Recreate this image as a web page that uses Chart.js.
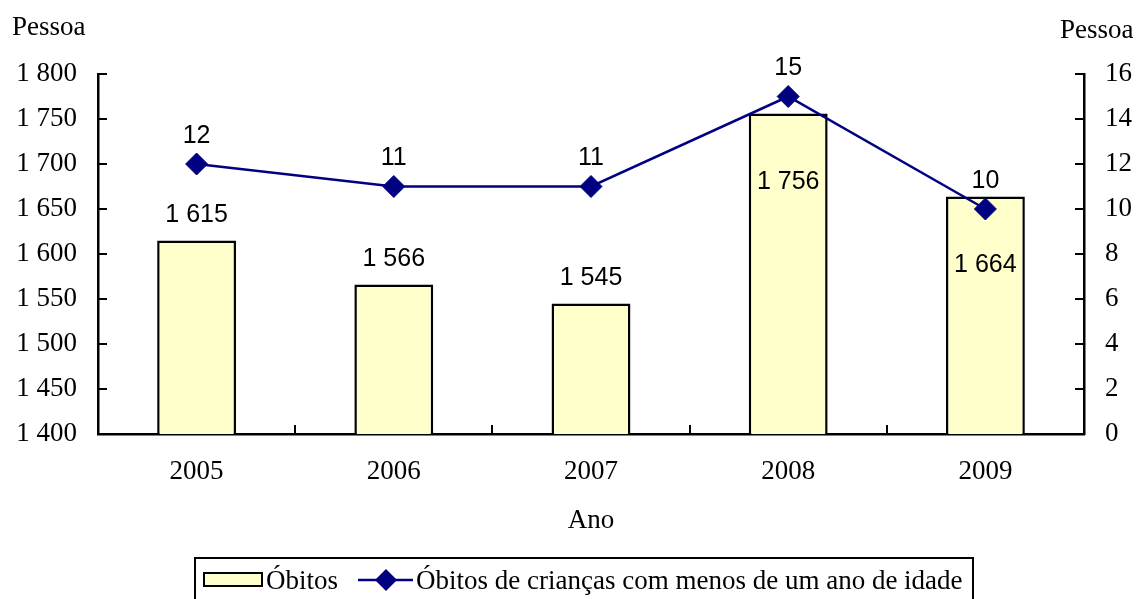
<!DOCTYPE html>
<html>
<head>
<meta charset="utf-8">
<script src="https://cdn.jsdelivr.net/npm/chart.js@4/dist/chart.umd.min.js"></script>
<style>
html,body{margin:0;padding:0;background:#fff;}
canvas{display:block;}
</style>
</head>
<body>
<canvas id="c" width="1138" height="599"></canvas>
<script>
// ---- data ----
const categories = ['2005', '2006', '2007', '2008', '2009'];
const obitos = [1615, 1566, 1545, 1756, 1664];
const obitosInfantis = [12, 11, 11, 15, 10];
const seriesNames = ['Óbitos', 'Óbitos de crianças com menos de um ano de idade'];
const leftAxisRange = [1400, 1800, 50];
const rightAxisRange = [0, 16, 2];
const leftAxisTitle = 'Pessoa';
const rightAxisTitle = 'Pessoa';
const xAxisTitle = 'Ano';

// ---- styles ----
const SERIF = '"Liberation Serif", "Times New Roman", serif';
const SANS = '"Liberation Sans", Arial, sans-serif';
const BAR_FILL = '#FFFFCC';
const NAVY = '#000080';

function fmt(n) {
  return String(n).replace(/\B(?=(\d{3})+(?!\d))/g, ' ');
}

const labelsPlugin = {
  id: 'valueLabels',
  afterDatasetsDraw(chart) {
    const ctx = chart.ctx;
    ctx.save();
    ctx.font = '25px ' + SANS;
    ctx.fillStyle = '#000';
    ctx.textAlign = 'center';
    ctx.textBaseline = 'middle';
    const barMeta = chart.getDatasetMeta(0);
    barMeta.data.forEach((el, i) => {
      const inside = el.y < chart.chartArea.top + 140;
      const y = inside ? el.y + 69 : el.y - 25;
      ctx.fillText(fmt(obitos[i]), el.x, y);
    });
    const lineMeta = chart.getDatasetMeta(1);
    lineMeta.data.forEach((el, i) => {
      ctx.fillText(String(obitosInfantis[i]), el.x, el.y - 28);
    });
    ctx.restore();
  }
};

const axesPlugin = {
  id: 'innerTicks',
  afterDraw(chart) {
    const ctx = chart.ctx;
    const area = chart.chartArea;
    const y = chart.scales.y, y1 = chart.scales.y1, x = chart.scales.x;
    ctx.save();
    ctx.strokeStyle = '#000';
    ctx.lineWidth = 2;
    ctx.beginPath();
    y.ticks.forEach(t => {
      const py = Math.round(y.getPixelForValue(t.value));
      ctx.moveTo(area.left, py); ctx.lineTo(area.left + 9, py);
    });
    y1.ticks.forEach(t => {
      const py = Math.round(y1.getPixelForValue(t.value));
      ctx.moveTo(area.right - 9, py); ctx.lineTo(area.right, py);
    });
    const n = categories.length;
    for (let i = 0; i <= n; i++) {
      let px;
      if (i === 0) px = x.getPixelForValue(0) - (x.getPixelForValue(1) - x.getPixelForValue(0)) / 2;
      else if (i === n) px = x.getPixelForValue(n - 1) + (x.getPixelForValue(n - 1) - x.getPixelForValue(n - 2)) / 2;
      else px = (x.getPixelForValue(i - 1) + x.getPixelForValue(i)) / 2;
      px = Math.round(px);
      ctx.moveTo(px, area.bottom); ctx.lineTo(px, area.bottom - 9);
    }
    ctx.stroke();

    // unit titles
    ctx.fillStyle = '#000';
    ctx.font = '27px ' + SERIF;
    ctx.textBaseline = 'alphabetic';
    ctx.textAlign = 'left';
    ctx.fillText(leftAxisTitle, 12, 35);
    ctx.fillText(rightAxisTitle, 1060, 38);

    // legend
    const lx0 = 195, lx1 = 973, ly0 = 558, ly1 = 620;
    ctx.lineWidth = 2;
    ctx.strokeStyle = '#000';
    ctx.strokeRect(lx0, ly0, lx1 - lx0, ly1 - ly0);
    ctx.fillStyle = BAR_FILL;
    ctx.fillRect(204, 573, 58, 13);
    ctx.strokeRect(204, 573, 58, 13);
    ctx.fillStyle = '#000';
    ctx.font = '27px ' + SERIF;
    ctx.textBaseline = 'alphabetic';
    ctx.fillText(seriesNames[0], 266, 589);
    ctx.strokeStyle = NAVY;
    ctx.lineWidth = 2.5;
    ctx.beginPath();
    ctx.moveTo(358, 580); ctx.lineTo(413, 580);
    ctx.stroke();
    ctx.fillStyle = NAVY;
    ctx.beginPath();
    ctx.moveTo(386, 569); ctx.lineTo(397, 580); ctx.lineTo(386, 591); ctx.lineTo(375, 580);
    ctx.closePath();
    ctx.fill();
    ctx.fillStyle = '#000';
    ctx.fillText(seriesNames[1], 416, 589);
    ctx.restore();
  }
};

const ctx = document.getElementById('c').getContext('2d');
new Chart(ctx, {
  data: {
    labels: categories,
    datasets: [
      {
        type: 'bar',
        label: seriesNames[0],
        data: obitos,
        yAxisID: 'y',
        backgroundColor: BAR_FILL,
        borderColor: '#000',
        borderWidth: 2.5,
        borderSkipped: false,
        barPercentage: 0.4,
        categoryPercentage: 1,
        order: 1
      },
      {
        type: 'line',
        label: seriesNames[1],
        data: obitosInfantis,
        yAxisID: 'y1',
        borderColor: NAVY,
        borderWidth: 2.5,
        backgroundColor: NAVY,
        pointStyle: 'rectRot',
        pointRadius: 11,
        pointBorderWidth: 1,
        pointBackgroundColor: NAVY,
        pointBorderColor: NAVY,
        tension: 0,
        order: 0
      }
    ]
  },
  options: {
    responsive: false,
    animation: false,
    layout: { padding: { top: 74, left: 0, right: 0, bottom: 0 } },
    plugins: {
      legend: { display: false },
      tooltip: { enabled: false }
    },
    scales: {
      x: {
        offset: true,
        grid: { display: true, drawOnChartArea: false, drawTicks: false, offset: true },
        border: { display: true, color: '#000', width: 2.5 },
        ticks: { color: '#000', font: { family: SERIF, size: 27 }, padding: 22 },
        title: { display: true, text: xAxisTitle, color: '#000', font: { family: SERIF, size: 27 }, padding: { top: 0, bottom: 62 } },
        afterFit(s) { s.height = 165; }
      },
      y: {
        position: 'left',
        min: leftAxisRange[0], max: leftAxisRange[1],
        grid: { display: true, drawOnChartArea: false, drawTicks: false },
        border: { display: true, color: '#000', width: 2.5 },
        ticks: { stepSize: leftAxisRange[2], color: '#000', font: { family: SERIF, size: 27 }, padding: 21, callback: v => fmt(v) },
        afterFit(s) { s.width = 98; }
      },
      y1: {
        position: 'right',
        min: rightAxisRange[0], max: rightAxisRange[1],
        grid: { display: true, drawOnChartArea: false, drawTicks: false },
        border: { display: true, color: '#000', width: 2.5 },
        ticks: { stepSize: rightAxisRange[2], color: '#000', font: { family: SERIF, size: 27 }, padding: 21 },
        afterFit(s) { s.width = 54; }
      }
    }
  },
  plugins: [labelsPlugin, axesPlugin]
});
</script>
</body>
</html>
